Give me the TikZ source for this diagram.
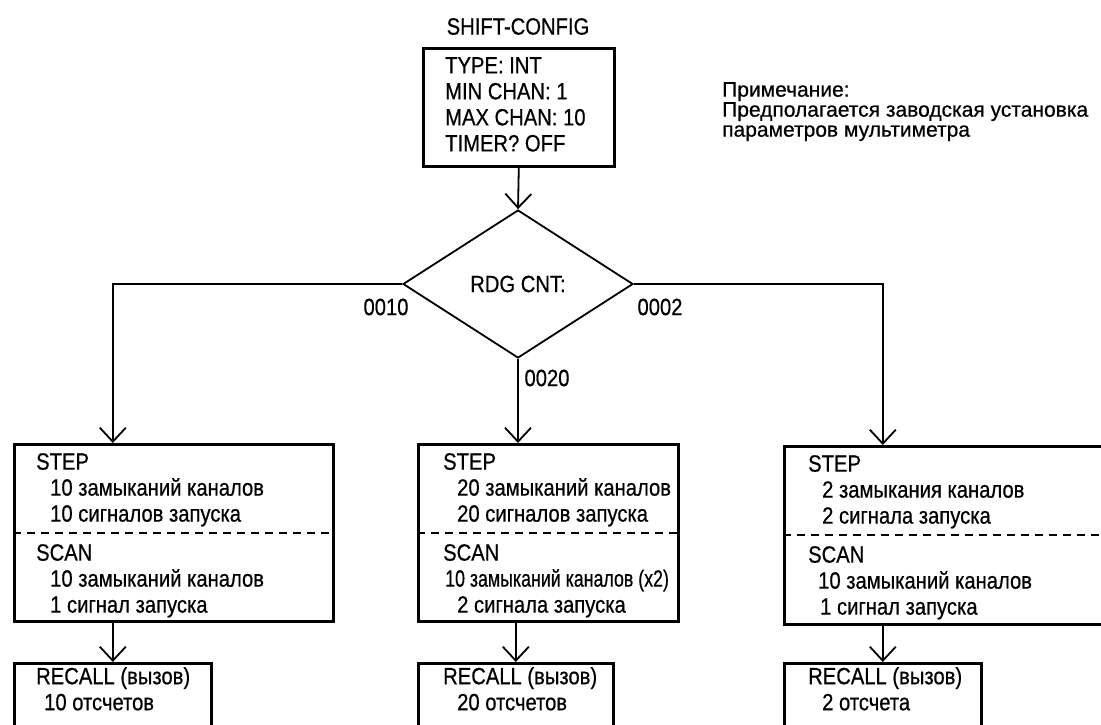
\documentclass[tikz,border=0pt]{standalone}
\usepackage{fontspec}
\setmainfont[FakeStretch=0.86, FakeBold=0.6]{Liberation Sans}
\newfontfamily\notefont[FakeBold=0.6]{Liberation Sans}
\usepackage{tikz}
\usetikzlibrary{arrows.meta,shapes.geometric}

\tikzset{
	box/.style={draw, line width=2.6pt, anchor=north west, inner sep=0pt},
	txt/.style={anchor=north west, inner sep=0pt, align=left, font=\fontsize{23.5}{26}\selectfont},
	lbl/.style={inner sep=0pt, font=\fontsize{23.5}{26}\selectfont},
	conn/.style={line width=1.8pt, -{Straight Barb[length=14pt,width=26pt,line width=1.8pt]}},
	sep/.style={line width=1.4pt, dash pattern=on 8pt off 6pt}
}
\newcommand{\ind}{\hspace*{14pt}}

\begin{document}
\begin{tikzpicture}[x=1pt, y=-1pt]
		%%%%% START %%%%%
		\useasboundingbox (0,0) rectangle (1101,724);
		\clip (0,0) rectangle (1101,724);
		
		% top block
		\node[lbl, anchor=north] (title) at (518,18) {SHIFT-CONFIG};
		\node[box, minimum width=191pt, minimum height=118pt] (cfg) at (422,47) {};
		\node[txt] (cfgtxt) at (445,57) {TYPE: INT\\MIN CHAN: 1\\MAX CHAN: 10\\TIMER? OFF};
		
		\node[txt, font=\notefont\fontsize{21}{20}\selectfont] (note) at (722,82)
			{Примечание:\\Предполагается заводская установка\\параметров мультиметра};
		
		% decision
		\node[diamond, draw, line width=1.8pt, inner sep=0pt, minimum width=230pt, minimum height=148pt,
			font=\fontsize{23.5}{26}\selectfont] (rdg) at (518,284) {RDG CNT:};
		\node[lbl] (cnt10) at (386,307) {0010};
		\node[lbl] (cnt02) at (660,307) {0002};
		\node[lbl] (cnt20) at (547,378) {0020};
		
		% step / scan boxes
		\node[box, minimum width=319pt, minimum height=177pt] (stepL) at (13,443) {};
		\node[box, minimum width=260pt, minimum height=177pt] (stepM) at (417,443) {};
		\node[box, minimum width=340pt, minimum height=178pt] (stepR) at (783,445) {};
		\draw[sep] (13,533) -- (332,533);
		\draw[sep] (417,533) -- (677,533);
		\draw[sep] (783,535) -- (1101,535);
		
		\node[txt] (stepLa) at (36,453) {STEP\\\ind 10 замыканий каналов\\\ind 10 сигналов запуска};
		\node[txt] (stepLb) at (36,544) {SCAN\\\ind 10 замыканий каналов\\\ind 1 сигнал запуска};
		\node[txt] (stepMa) at (443,453) {STEP\\\ind 20 замыканий каналов\\\ind 20 сигналов запуска};
		\node[txt] (stepMb) at (443,544) {SCAN\\\hspace*{2pt}\scalebox{0.88}[1]{10 замыканий каналов (x2)}\\\ind 2 сигнала запуска};
		\node[txt] (stepRa) at (808,455) {STEP\\\ind 2 замыкания каналов\\\ind 2 сигнала запуска};
		\node[txt] (stepRb) at (808,546) {SCAN\\\hspace*{10pt}10 замыканий каналов\\\hspace*{12pt}1 сигнал запуска};
		
		% recall boxes
		\node[box, minimum width=197pt, minimum height=90pt] (recL) at (13,662) {};
		\node[box, minimum width=195pt, minimum height=90pt] (recM) at (417,662) {};
		\node[box, minimum width=197pt, minimum height=90pt] (recR) at (783,662) {};
		\node[txt] (recLt) at (36,667) {RECALL (вызов)\\\hspace*{8pt}10 отсчетов};
		\node[txt] (recMt) at (443,667) {RECALL (вызов)\\\ind 20 отсчетов};
		\node[txt] (recRt) at (808,667) {RECALL (вызов)\\\ind 2 отсчета};
		
		% connectors
		\draw[conn] (cfg.south) -- (rdg.north);
		\draw[conn] (rdg.west) -| (recL.north |- stepL.north);
		\draw[conn] (rdg.south) -- (rdg.south |- stepM.north);
		\draw[conn] (rdg.east) -| (recR.north |- stepR.north);
		
		\draw[conn] (recL.north |- stepL.south) -- (recL.north);
		\draw[conn] (recM.north |- stepM.south) -- (recM.north);
		\draw[conn] (recR.north |- stepR.south) -- (recR.north);
		
		%%%%% END %%%%%
	\end{tikzpicture}
\end{document}
